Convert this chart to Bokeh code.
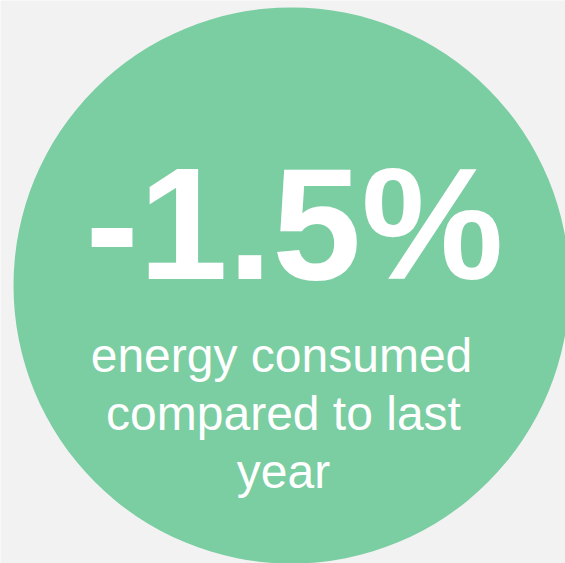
from bokeh.plotting import figure
from bokeh.embed import file_html
from bokeh.resources import INLINE
from bokeh.core.properties import value

# Data
headline = ["-1.5%"]
caption_lines = ["energy consumed", "compared to last", "year"]

W, H = 565, 563
p = figure(width=W, height=H, x_range=(0, W), y_range=(0, H),
           output_backend="svg", toolbar_location=None, min_border=0)
p.axis.visible = False
p.grid.visible = False
p.outline_line_color = None
p.background_fill_color = "#f2f2f2"
p.border_fill_color = "#f2f2f2"

# circle (pixel center ~ (291,285), r ~ 278)
p.circle(x=[291], y=[278], radius=278, fill_color="#7bcda2", line_color=None)

p.text(x=[294], y=[340], text=headline, text_font=value("Liberation Sans"),
       text_font_style="bold", text_font_size="160px", text_color="white",
       text_align="center", text_baseline="alphabetic")

p.text(x=[281, 283, 283], y=[208, 150, 92], text=caption_lines,
       text_font=value("Liberation Sans"), text_font_size="48px",
       text_color="white", text_align="center", text_baseline="alphabetic")

html = file_html(p, INLINE)
html = html.replace("<body>", '<body style="background:#f2f2f2">', 1)
open("out.html", "w").write(html)
